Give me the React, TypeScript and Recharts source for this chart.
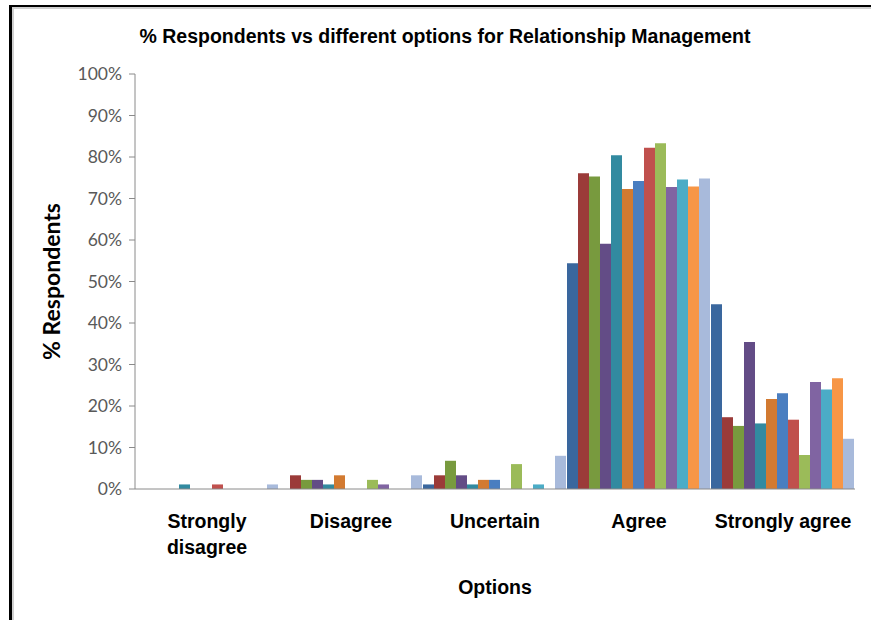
import { Bar, BarChart, XAxis, YAxis } from 'recharts';

const categories = ['Strongly disagree', 'Disagree', 'Uncertain', 'Agree', 'Strongly agree'];
const tickLines = [['Strongly', 'disagree'], ['Disagree'], ['Uncertain'], ['Agree'], ['Strongly agree']];
const yTicks = [0, 10, 20, 30, 40, 50, 60, 70, 80, 90, 100];

// one array per respondent group, values in % for each option
const s1 = [0, 0, 1.1, 54.4, 44.5];
const s2 = [0, 3.3, 3.3, 76.1, 17.3];
const s3 = [0, 2.2, 6.8, 75.3, 15.2];
const s4 = [0, 2.2, 3.3, 59.1, 35.4];
const s5 = [1.1, 1.1, 1.1, 80.4, 15.8];
const s6 = [0, 3.3, 2.2, 72.3, 21.7];
const s7 = [0, 0, 2.2, 74.2, 23.1];
const s8 = [1.1, 0, 0, 82.2, 16.7];
const s9 = [0, 2.2, 6.0, 83.3, 8.2];
const s10 = [0, 1.1, 0, 72.8, 25.8];
const s11 = [0, 0, 1.1, 74.6, 24.0];
const s12 = [0, 0, 0, 72.9, 26.7];
const s13 = [1.1, 3.3, 8.0, 74.8, 12.1];

const series = [s1, s2, s3, s4, s5, s6, s7, s8, s9, s10, s11, s12, s13];
const colors = [
  '#3A679E', '#9B3B39', '#789A3E', '#634C86', '#328AA0', '#D27A31',
  '#4A7EC0', '#C0504D', '#9BBB59', '#8064A2', '#4BACC6', '#F79646', '#A8BADB',
];

const data = categories.map((c, i) => {
  const row: Record<string, string | number> = { option: c };
  series.forEach((s, j) => {
    row[`s${j + 1}`] = s[i];
  });
  return row;
});

const xFont = '"Liberation Sans", Arial, sans-serif';
const yFont = 'Lato, "Open Sans", sans-serif';

function OptionTick({ x, y, index }: any) {
  const lines = tickLines[index] || [];
  return (
    <text x={x} y={y} textAnchor="middle" fontFamily={xFont} fontWeight="bold" fontSize={19.5} fill="#000">
      {lines.map((l, k) => (
        <tspan key={k} x={x} dy={k === 0 ? 31 : 26}>
          {l}
        </tspan>
      ))}
    </text>
  );
}

export default function App() {
  return (
    <div style={{ position: 'absolute', left: 0, top: 0, width: 871, height: 620, background: '#fff', overflow: 'hidden' }}>
      <div
        style={{
          position: 'absolute',
          left: 9,
          top: 5,
          width: 860,
          height: 620,
          borderTop: '2px solid #000',
          borderLeft: '3px solid #000',
        }}
      >
        <div style={{ width: '100%', height: '100%', borderTop: '2px solid #cfcfcf', borderLeft: '2px solid #cfcfcf' }} />
      </div>
      <div
        style={{
          position: 'absolute',
          left: 0,
          top: 25,
          width: 890,
          textAlign: 'center',
          fontFamily: xFont,
          fontWeight: 'bold',
          fontSize: 19.5,
          color: '#000',
        }}
      >
        % Respondents vs different options for Relationship Management
      </div>
      <div style={{ position: 'absolute', left: 0, top: 0 }}>
        <BarChart
          width={871}
          height={620}
          data={data}
          margin={{ top: 74, right: 16, bottom: 21, left: 35 }}
          barCategoryGap={0}
          barGap={0}
        >
          <XAxis
            dataKey="option"
            tickLine={false}
            axisLine={{ stroke: '#8a8a8a' }}
            tick={<OptionTick />}
            interval={0}
            height={110}
            label={({ viewBox }: any) => (
              <text
                x={viewBox.x + viewBox.width / 2}
                y={viewBox.y + 105}
                textAnchor="middle"
                fontFamily={xFont}
                fontWeight="bold"
                fontSize={19.5}
                fill="#000"
              >
                Options
              </text>
            )}
          />
          <XAxis xAxisId="top" orientation="top" dataKey="option" tick={false} tickLine={false} height={0} axisLine={{ stroke: '#c4c4c4', strokeWidth: 2 }} />
          <YAxis
            domain={[0, 100]}
            ticks={yTicks}
            interval={0}
            width={100}
            tickFormatter={(v: number) => `${v}%`}
            tickSize={6}
            tickMargin={7}
            tickLine={{ stroke: '#8a8a8a' }}
            axisLine={{ stroke: '#8a8a8a' }}
            tick={{ fontFamily: yFont, fontSize: 17.5, fill: '#595959' }}
            label={({ viewBox }: any) => {
              const cx = viewBox.x + 16;
              const cy = viewBox.y + viewBox.height / 2;
              return (
                <text
                  x={cx}
                  y={cy}
                  transform={`rotate(-90 ${cx} ${cy})`}
                  textAnchor="middle"
                  dominantBaseline="central"
                  fontFamily={yFont}
                  fontWeight="bold"
                  fontSize={23}
                  fill="#000"
                >
                  % Respondents
                </text>
              );
            }}
          />
          <YAxis yAxisId="right" orientation="right" domain={[0, 100]} width={0} tick={false} tickLine={false} axisLine={{ stroke: '#c4c4c4', strokeWidth: 2 }} />
          {series.map((_, j) => (
            <Bar key={j} dataKey={`s${j + 1}`} fill={colors[j]} isAnimationActive={false} />
          ))}
        </BarChart>
      </div>
    </div>
  );
}
